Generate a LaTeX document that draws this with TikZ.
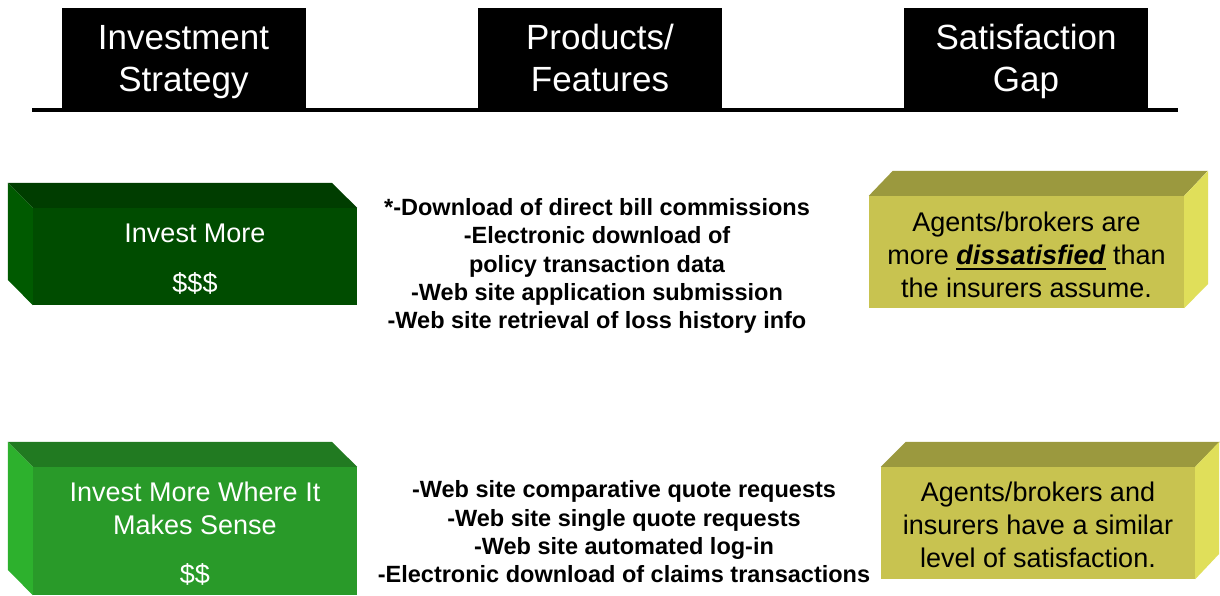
\documentclass[tikz,border=0pt]{standalone}
\usepackage{fontspec}
\setmainfont{Liberation Sans}

% thick underline under a word
\newsavebox{\ulbox}
\newcommand{\thickul}[1]{\sbox{\ulbox}{#1}\rlap{\vrule width\wd\ulbox height -3pt depth 5.5pt}\usebox{\ulbox}}

\definecolor{darkfront}{HTML}{004C00}
\definecolor{darktop}{HTML}{003D00}
\definecolor{darkside}{HTML}{005A00}
\definecolor{lightfront}{HTML}{299A29}
\definecolor{lighttop}{HTML}{217A21}
\definecolor{lightside}{HTML}{2DB12D}
\definecolor{khakifront}{HTML}{C8C350}
\definecolor{khakitop}{HTML}{9B993E}
\definecolor{khakiside}{HTML}{E0DF5A}

\tikzset{
	header/.style={fill=black, text=white, minimum width=244, minimum height=100, inner sep=0pt, text depth=0pt, align=center, font=\fontsize{35}{42}\selectfont},
	face/.style={inner sep=0pt},
	facetext/.style={inner sep=0pt, align=center, font=\fontsize{27}{33}\selectfont},
	features/.style={inner sep=0pt, align=center, font=\fontsize{23.5}{28.3}\selectfont\bfseries},
}

\begin{document}
\begin{tikzpicture}[x=1pt,y=-1pt]
			\useasboundingbox (0,0) rectangle (1220,595);
			\fill[white] (0,0) rectangle (1220,595);
			% Column headers
			\node[header] (strategy) at (183.5,58) {Investment\\Strategy};
			\node[header] (products) at (600,58) {Products/\\Features};
			\node[header] (gap) at (1026,58) {Satisfaction\\Gap};
			\coordinate (ruleL) at (32,110);
			\coordinate (ruleR) at (1178,110);
			\draw[line width=4pt] (ruleL) -- (ruleR);
			
			% Invest more (dark green block)
			\node[face, fill=darkfront, minimum width=324, minimum height=97] (more) at (195,256.5) {};
			\fill[darktop] (more.north west) --++(-25,-25) --++(324,0) -- (more.north east) -- cycle;
			\fill[darkside] (more.north west) --++(-25,-25) --++(0,97) -- (more.south west) -- cycle;
			\node[facetext, text=white] (moretext) at (195,259.5) {Invest More\\[17pt]\$\$\$};
			
			% Invest more where it makes sense (light green block)
			\node[face, fill=lightfront, minimum width=324, minimum height=128] (sense) at (195,531) {};
			\fill[lighttop] (sense.north west) --++(-25,-25) --++(324,0) -- (sense.north east) -- cycle;
			\fill[lightside] (sense.north west) --++(-25,-25) --++(0,128) -- (sense.south west) -- cycle;
			\node[facetext, text=white] (sensetext) at (195,534) {Invest More Where It\\Makes Sense\\[16pt]\$\$};
			
			% Satisfaction gap blocks
			\node[face, fill=khakifront, minimum width=315, minimum height=112] (dissat) at (1026.5,252) {};
			\fill[khakitop] (dissat.north west) --++(24,-25) --++(315,0) -- (dissat.north east) -- cycle;
			\fill[khakiside] (dissat.north east) --++(24,-25) --++(0,113) -- (dissat.south east) -- cycle;
			\node[facetext] (dissattext) at (1026.5,255) {Agents/brokers are\\more \thickul{\textbf{\textit{dissatisfied}}} than\\the insurers assume.};
			
			\node[face, fill=khakifront, minimum width=314, minimum height=112] (similar) at (1038,523) {};
			\fill[khakitop] (similar.north west) --++(25,-25) --++(314,0) -- (similar.north east) -- cycle;
			\fill[khakiside] (similar.north east) --++(24,-25) --++(0,112) -- (similar.south east) -- cycle;
			\node[facetext] (similartext) at (1038,525) {Agents/brokers and\\insurers have a similar\\level of satisfaction.};
			
			% Product features
			\node[features] (direct) at (597,266) {*-Download of direct bill commissions\\-Electronic download of\\policy transaction data\\-Web site application submission\\-Web site retrieval of loss history info};
			\node[features] (quotes) at (624,532) {-Web site comparative quote requests\\-Web site single quote requests\\-Web site automated log-in\\-Electronic download of claims transactions};
			
		\end{tikzpicture}
\end{document}
